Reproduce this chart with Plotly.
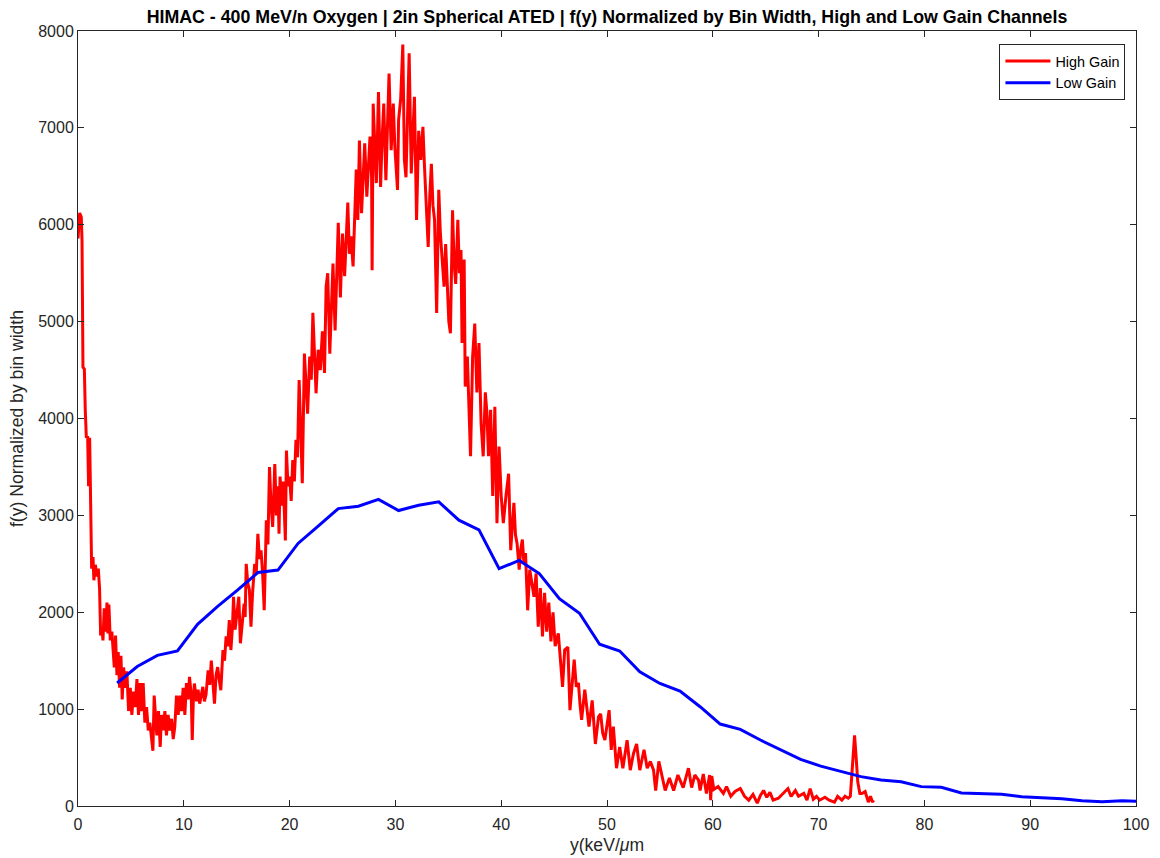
import plotly.graph_objects as go

# High Gain channel
high_x = [0.0, 0.16, 0.31, 0.38, 0.47, 0.6, 0.69, 0.79, 0.91, 1.0, 1.1, 1.2, 1.29, 1.42, 1.5, 1.64, 1.79, 1.92,
          2.04, 2.14, 2.26, 2.36, 2.48, 2.61, 2.74, 2.83, 2.92, 3.05, 3.2, 3.33, 3.43, 3.55, 3.68, 3.8, 3.93,
          4.06, 4.18, 4.31, 4.47, 4.62, 4.78, 4.94, 5.09, 5.25, 5.41, 5.57, 5.72, 5.88, 6.0, 6.16, 6.32, 6.48,
          6.64, 6.79, 6.95, 7.08, 7.2, 7.33, 7.45, 7.61, 7.77, 7.89, 8.05, 8.21, 8.36, 8.52, 8.68, 8.84, 9.0,
          9.15, 9.31, 9.47, 9.62, 9.78, 9.94, 10.1, 10.25, 10.41, 10.54, 10.7, 10.8, 10.9, 11.0, 11.2, 11.35,
          11.5, 11.65, 11.8, 11.95, 12.1, 12.3, 12.45, 12.6, 12.75, 12.9, 13.05, 13.2, 13.35, 13.5, 13.7, 13.85,
          14.0, 14.15, 14.3, 14.45, 14.6, 14.7, 14.85, 15.0, 15.2, 15.35, 15.5, 15.7, 15.8, 15.9, 16.05, 16.2,
          16.35, 16.5, 16.7, 16.85, 17.0, 17.15, 17.3, 17.45, 17.6, 17.7, 17.8, 17.95, 18.1, 18.25, 18.4, 18.5,
          18.6, 18.75, 18.9, 19.0, 19.1, 19.25, 19.4, 19.6, 19.7, 19.85, 20.0, 20.15, 20.3, 20.45, 20.6, 20.75,
          20.9, 21.05, 21.2, 21.4, 21.55, 21.7, 21.9, 22.05, 22.2, 22.35, 22.5, 22.7, 22.9, 23.1, 23.3, 23.45,
          23.6, 23.8, 23.95, 24.1, 24.3, 24.45, 24.6, 24.8, 25.0, 25.2, 25.35, 25.5, 25.65, 25.8, 26.0, 26.1,
          26.3, 26.45, 26.6, 26.8, 26.95, 27.1, 27.3, 27.45, 27.6, 27.75, 27.8, 27.9, 28.05, 28.2, 28.4, 28.6,
          28.75, 28.9, 29.1, 29.25, 29.4, 29.6, 29.8, 29.95, 30.2, 30.3, 30.5, 30.7, 30.85, 31.0, 31.15, 31.3,
          31.5, 31.65, 31.8, 32.0, 32.2, 32.4, 32.6, 32.75, 32.9, 33.1, 33.25, 33.4, 33.55, 33.7, 33.9, 34.1,
          34.25, 34.4, 34.6, 34.75, 34.9, 35.05, 35.2, 35.35, 35.4, 35.55, 35.7, 35.9, 36.05, 36.2, 36.3, 36.5,
          36.6, 36.8, 36.95, 37.1, 37.3, 37.5, 37.7, 37.9, 38.1, 38.3, 38.5, 38.65, 38.8, 39.0, 39.2, 39.4,
          39.6, 39.8, 40.0, 40.2, 40.45, 40.7, 40.9, 41.05, 41.2, 41.35, 41.5, 41.7, 41.85, 42.0, 42.15, 42.3,
          42.5, 42.7, 42.9, 43.1, 43.3, 43.5, 43.7, 43.9, 44.1, 44.3, 44.5, 44.7, 44.9, 45.1, 45.4, 45.6, 45.8,
          46.0, 46.3, 46.5, 46.7, 46.9, 47.1, 47.3, 47.45, 47.6, 47.9, 48.1, 48.3, 48.6, 48.9, 49.2, 49.4, 49.6,
          49.8, 50.2, 50.4, 50.6, 50.9, 51.2, 51.5, 51.9, 52.2, 52.5, 52.8, 53.1, 53.5, 53.8, 54.1, 54.4, 54.6,
          54.9, 55.2, 55.5, 55.9, 56.3, 56.7, 57.2, 57.7, 58.0, 58.3, 58.65, 58.8, 59.1, 59.4, 59.7, 59.8, 59.9,
          60.1, 60.5, 61.0, 61.3, 61.7, 62.1, 62.6, 63.0, 63.4, 63.8, 64.2, 64.5, 64.8, 65.1, 65.4, 65.7, 66.2,
          66.6, 67.1, 67.4, 67.8, 68.1, 68.6, 68.9, 69.2, 69.5, 69.8, 70.1, 70.6, 71.0, 71.5, 71.8, 72.2, 72.5,
          72.8, 73.0, 73.2, 73.4, 73.55, 73.7, 73.9, 74.1, 74.4, 74.7, 74.9, 75.1, 75.2]
high_y = [5857, 6122, 6080, 5837, 4530, 4510, 4080, 3800, 3820, 3300, 3800, 3020, 2450, 2570, 2330, 2490, 2370, 2450,
          2240, 1760, 1840, 1710, 2040, 1800, 2100, 1780, 2080, 1710, 1800, 1590, 1430, 1760, 1350, 1590, 1220,
          1550, 1100, 1430, 1220, 1390, 980, 1220, 940, 1180, 1020, 1310, 940, 1270, 980, 1270, 860, 1020,
          780, 860, 650, 570, 1140, 900, 730, 980, 610, 940, 780, 980, 730, 940, 780, 900, 690,
          820, 1140, 940, 1140, 980, 1220, 940, 1270, 1100, 1334, 1150, 681, 1100, 1264, 1080, 1200,
          1057, 1150, 1230, 1080, 1150, 1400, 1250, 1500, 1300, 1057, 1350, 1434, 1300, 1195, 1610, 1500,
          1750, 1650, 1920, 1610, 1850, 2160, 1820, 2000, 2160, 1680, 1900, 2090, 1950, 2500, 2300, 2230,
          1850, 2200, 2500, 2400, 2810, 2550, 2640, 2400, 2020, 2600, 2950, 2700, 3500, 3100, 2880, 3200,
          3530, 3000, 3300, 2810, 3400, 3100, 3350, 2740, 3670, 3300, 3400, 3150, 3570, 3350, 3780, 3600,
          4396, 3900, 3333, 4670, 4300, 4050, 4640, 4400, 5090, 4670, 4260, 4710, 4500, 4900, 4470, 5360,
          5500, 4670, 5200, 5600, 4910, 5400, 6020, 5250, 5910, 5470, 5800, 6230, 5700, 5880, 5570, 5900,
          6570, 6050, 6870, 6120, 6500, 6840, 6290, 6600, 6910, 6500, 5530, 7250, 6800, 6430, 7370, 6390,
          6900, 7250, 6460, 7000, 7560, 6770, 7250, 6800, 6360, 7080, 7300, 7860, 6670, 6490, 7100, 7770,
          6530, 7000, 7320, 6050, 6970, 6670, 7010, 6600, 6290, 5770, 6300, 6630, 6200, 6050, 5090, 6360,
          5910, 5700, 5360, 5800, 5330, 5000, 4880, 5900, 6150, 5600, 5390, 6050, 5500, 5740, 4780, 5640,
          4330, 4640, 4200, 3610, 4640, 4980, 4270, 4780, 3950, 3610, 4270, 4060, 3610, 4090, 3200, 4120,
          2920, 3710, 3200, 2920, 3200, 3430, 2640, 2900, 3130, 2800, 2710, 2440, 2650, 2750, 2500, 2610,
          2020, 2440, 2300, 2160, 2400, 1850, 2250, 1750, 2200, 1800, 2100, 1700, 2000, 1650, 1782, 1500, 1230,
          1610, 1640, 989, 1300, 1510, 1230, 1270, 1050, 890, 1200, 1000, 820, 1090, 640, 920, 950, 750,
          680, 990, 580, 820, 390, 610, 390, 680, 370, 540, 640, 370, 580, 390, 460, 370, 160,
          460, 320, 160, 290, 160, 320, 190, 390, 190, 320, 268, 160, 330, 130, 320, 60, 310,
          170, 200, 130, 200, 100, 150, 180, 100, 60, 120, 30, 110, 160, 90, 140, 60, 80,
          120, 180, 100, 160, 100, 130, 60, 180, 70, 100, 60, 90, 60, 40, 100, 60, 100,
          80, 100, 400, 730, 500, 250, 130, 130, 150, 40, 100, 40, 60]

# Low Gain channel
low_x = [3.7, 5.6, 7.5, 9.4, 11.3, 13.2, 15.1, 17.0, 18.9, 20.8, 22.7, 24.6, 26.5, 28.4, 30.3, 32.2, 34.1,
         36.0, 37.9, 39.8, 41.7, 43.6, 45.5, 47.4, 49.3, 51.2, 53.1, 55.0, 56.9, 58.8, 60.7, 62.6, 64.5,
         66.4, 68.3, 70.2, 72.1, 74.0, 75.9, 77.8, 79.7, 81.6, 83.5, 85.4, 87.3, 89.2, 91.1, 93.0, 94.9,
         96.8, 98.7, 100.6]
low_y = [1270, 1440, 1555, 1600, 1875, 2060, 2230, 2410, 2435, 2710, 2890, 3070, 3095, 3165, 3050, 3105, 3140,
         2950, 2850, 2450, 2535, 2400, 2140, 1990, 1670, 1600, 1386, 1265, 1186, 1025, 846, 791, 681,
         578, 481, 412, 354, 303, 268, 251, 200, 193, 135, 131, 121, 96, 89, 75, 55,
         45, 55, 48]

x_ticks = [0, 10, 20, 30, 40, 50, 60, 70, 80, 90, 100]
y_ticks = [0, 1000, 2000, 3000, 4000, 5000, 6000, 7000, 8000]

FONT = "Liberation Sans, Arial, sans-serif"
AX = "#262626"

fig = go.Figure()
fig.add_trace(go.Scatter(x=high_x, y=high_y, mode="lines", name="High Gain",
                         line=dict(color="#ff0000", width=3)))
fig.add_trace(go.Scatter(x=low_x, y=low_y, mode="lines", name="Low Gain",
                         line=dict(color="#0000ff", width=3)))

axis_common = dict(showline=True, linecolor=AX, linewidth=1, mirror="ticks", ticks="inside",
                   ticklen=6, tickcolor=AX, showgrid=False, zeroline=False, automargin=False,
                   tickfont=dict(family=FONT, size=16, color=AX))

fig.update_layout(
    width=1160, height=858,
    paper_bgcolor="white", plot_bgcolor="white",
    margin=dict(l=78, r=24, t=31, b=52),
    title=dict(text="<b>HIMAC - 400 MeV/n Oxygen | 2in Spherical ATED | f(y) Normalized by Bin Width, High and Low Gain Channels</b>",
               x=(78 + 1136) / 2 / 1160, xanchor="center", y=1 - 17 / 858, yanchor="middle",
               font=dict(family=FONT, size=17.8, color="black")),
    xaxis=dict(range=[0, 100], tickvals=x_ticks, ticklabelstandoff=4,
               title=dict(text="y(keV/<i>μ</i>m", font=dict(family=FONT, size=17.6, color=AX), standoff=6),
               **axis_common),
    yaxis=dict(range=[0, 8000], tickvals=y_ticks,
               title=dict(text="f(y) Normalized by bin width", font=dict(family=FONT, size=17.6, color=AX), standoff=10),
               **axis_common),
    legend=dict(x=0.99, y=0.983, xanchor="right", yanchor="top", bgcolor="white",
                bordercolor=AX, borderwidth=1, font=dict(family=FONT, size=14.4, color="black"),
                tracegroupgap=0, itemwidth=45),
    showlegend=True,
)

fig.write_html("out.html")
